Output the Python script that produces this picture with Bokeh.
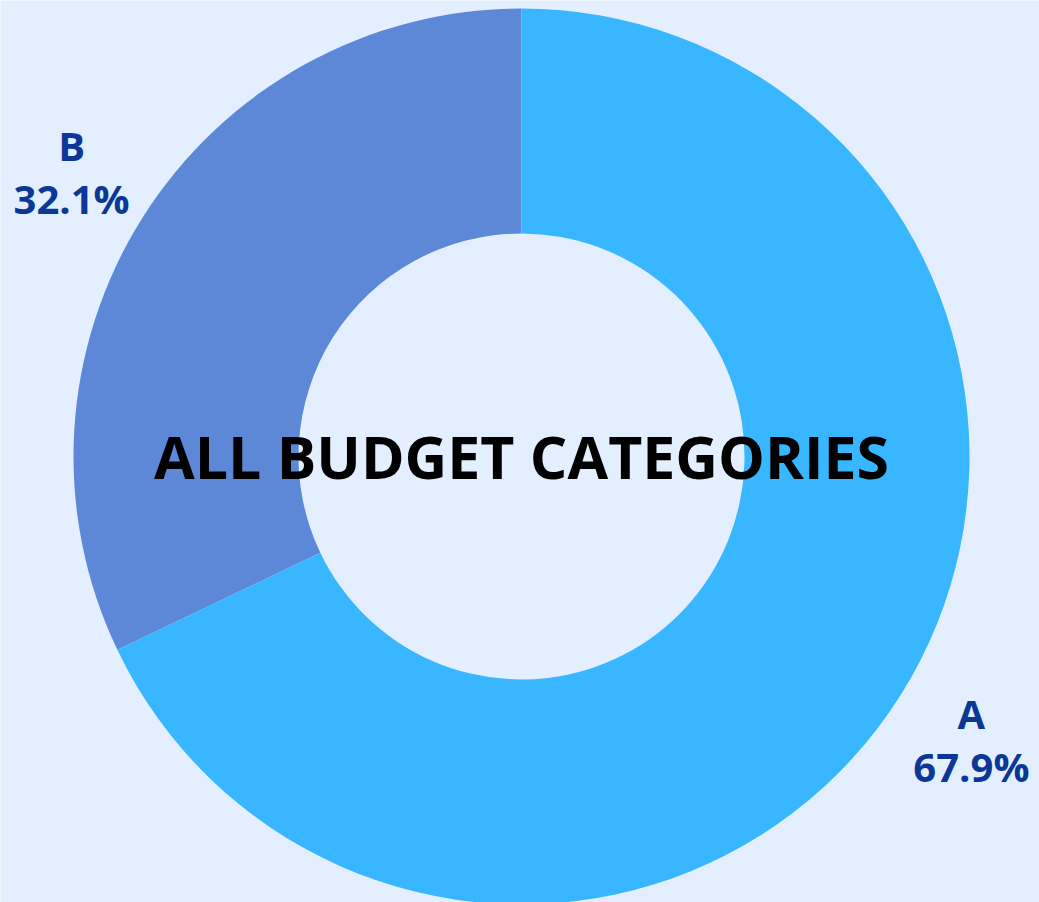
import math
from bokeh.plotting import figure
from bokeh.models import ColumnDataSource, Range1d
from bokeh.core.properties import value
from bokeh.embed import file_html
from bokeh.resources import INLINE

categories = ["A", "B"]
values = [67.9, 32.1]
colors = ["#38B6FF", "#5C88D7"]
center_title = "ALL BUDGET CATEGORIES"

BG = "#E3EFFE"
W, H = 1039, 902
cx, cy = 521, H - 456
R_OUT, R_IN = 448, 223

total = sum(values)
# B starts at top and runs counter-clockwise; A fills the rest
order = ["B", "A"]
start = math.pi / 2
wedge = dict(start=[], end=[], color=[])
lab = dict(x=[], y=[], name=[], pct=[])
for name in order:
    i = categories.index(name)
    frac = values[i] / total
    end = start + frac * 2 * math.pi
    wedge["start"].append(start)
    wedge["end"].append(end)
    wedge["color"].append(colors[i])
    mid = (start + end) / 2
    lab["x"].append(cx + 1.187 * R_OUT * math.cos(mid))
    lab["y"].append(cy + 1.187 * R_OUT * math.sin(mid))
    lab["name"].append(name)
    lab["pct"].append(f"{frac * 100:.1f}%")
    start = end

p = figure(width=W, height=H, output_backend="svg", toolbar_location=None,
           x_range=Range1d(0, W), y_range=Range1d(0, H), min_border=0,
           background_fill_color=BG, border_fill_color=BG, outline_line_color=None)
p.axis.visible = False
p.grid.visible = False

p.annular_wedge(x=cx, y=cy, inner_radius=R_IN, outer_radius=R_OUT,
                start_angle="start", end_angle="end", fill_color="color",
                line_color=None, source=ColumnDataSource(wedge))

src = ColumnDataSource(lab)
p.text(x="x", y="y", text="name", source=src, text_align="center", text_baseline="middle",
       y_offset=-27, text_font=value("Open Sans"), text_font_style="bold",
       text_font_size="40px", text_color="#0B3896")
p.text(x="x", y="y", text="pct", source=src, text_align="center", text_baseline="middle",
       y_offset=26, text_font=value("Open Sans"), text_font_style="bold",
       text_font_size="40px", text_color="#0B3896")
p.text(x=[cx], y=[cy], text=[center_title], text_align="center", text_baseline="middle",
       y_offset=-1, text_font=value("Open Sans"), text_font_style="bold", text_font_size="59px",
       text_color="#000000")

open("out.html", "w").write(file_html(p, INLINE))
